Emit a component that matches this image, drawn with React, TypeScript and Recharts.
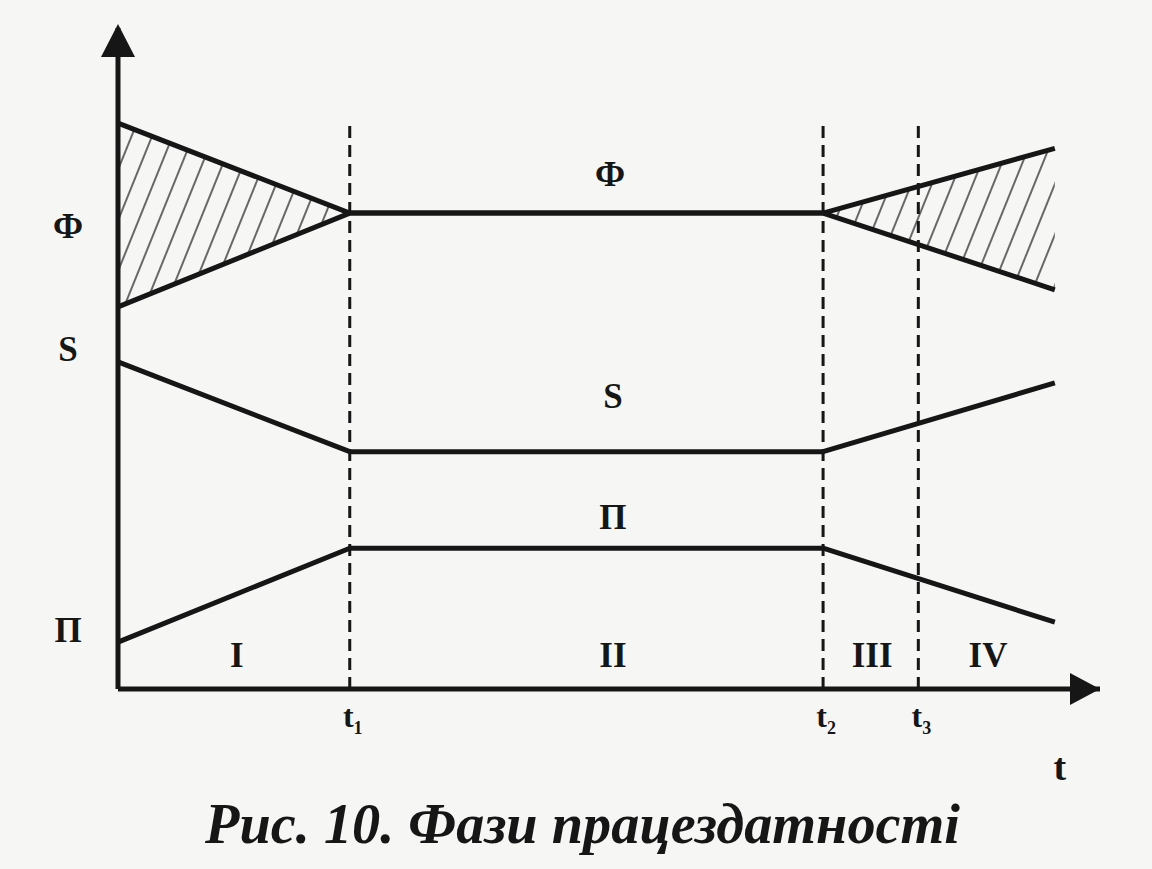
import React from "react";
import { ComposedChart, Line, Area, XAxis, YAxis, ReferenceLine, ReferenceDot } from "recharts";

// ── Data ──────────────────────────────────────────────────────────────────────
const T_POINTS = [0, 2.36, 7.18, 9.54];
const PHI_HIGH = [8.56, 7.2, 7.2, 8.18];
const PHI_LOW = [5.78, 7.2, 7.2, 6.04];
const S_VALUES = [4.95, 3.59, 3.59, 4.63];
const P_VALUES = [0.71, 2.13, 2.13, 1.01];

const PHASE_T = [2.36, 7.18, 8.15];
const PHASE_TICK_SUB = ["1", "2", "3"];
const PHASE_TOP = 8.53;

const Y_TICKS = [0.89, 5.13, 6.99];
const Y_TICK_LABELS = ["П", "S", "Ф"];

const PHASE_NAMES = ["I", "II", "III", "IV"];
const PHASE_NAME_X = [1.21, 5.04, 7.68, 8.86];
const PHASE_NAME_Y = 0.51;

const CURVE_NAMES = ["Ф", "S", "П"];
const CURVE_NAME_X = [5.01, 5.04, 5.04];
const CURVE_NAME_Y = [7.78, 4.42, 2.59];

const CAPTION = "Рис. 10. Фази працездатності";

const data = T_POINTS.map((t, i) => ({
  t,
  phiHigh: PHI_HIGH[i],
  phiLow: PHI_LOW[i],
  s: S_VALUES[i],
  p: P_VALUES[i],
  hatch: [PHI_LOW[i], PHI_HIGH[i]],
}));

const INK = "#161616";
const SERIF = "'Liberation Serif', 'DejaVu Serif', serif";

// ── Shapes ────────────────────────────────────────────────────────────────────
const Label = (text: string, size = 35) => (props: any) => (
  <text x={props.cx} y={props.cy} textAnchor="middle" dominantBaseline="central"
    style={{ fontFamily: SERIF, fontWeight: 700, fontSize: size, fill: INK }}>
    {text}
  </text>
);

const ArrowUp = (props: any) => (
  <polygon points={`${props.cx},${props.cy - 4} ${props.cx - 17},${props.cy + 29} ${props.cx + 17},${props.cy + 29}`} fill={INK} />
);
const ArrowRight = (props: any) => (
  <polygon points={`${props.cx},${props.cy} ${props.cx - 30},${props.cy - 16} ${props.cx - 30},${props.cy + 16}`} fill={INK} />
);

function XTick(props: any) {
  const i = PHASE_T.indexOf(props.payload.value);
  return (
    <text x={props.x + 3} y={props.y + 30} textAnchor="middle"
      style={{ fontFamily: SERIF, fontWeight: 700, fontSize: 32, fill: INK }}>
      t<tspan fontSize={18} dy={7}>{PHASE_TICK_SUB[i]}</tspan>
    </text>
  );
}

function YTick(props: any) {
  const i = Y_TICKS.indexOf(props.payload.value);
  return (
    <text x={68} y={props.y} textAnchor="middle" dominantBaseline="central"
      style={{ fontFamily: SERIF, fontWeight: 700, fontSize: 35, fill: INK }}>
      {Y_TICK_LABELS[i]}
    </text>
  );
}

export default function App() {
  return (
    <div style={{ position: "absolute", left: 0, top: 0, width: 1152, height: 869, background: "#f6f6f5" }}>
      <ComposedChart width={1152} height={869} data={data}
        margin={{ top: 28, right: 52, bottom: 140, left: 38 }}>
        <defs>
          <pattern id="hatch" width={19} height={19} patternUnits="userSpaceOnUse" patternTransform="rotate(22)">
            <line x1={2} y1={0} x2={2} y2={19} stroke="#444" strokeWidth={1.6} />
          </pattern>
        </defs>
        <XAxis type="number" dataKey="t" domain={[0, 10]} ticks={PHASE_T} tick={<XTick />}
          tickLine={false} axisLine={{ stroke: INK, strokeWidth: 5 }} height={40} />
        <YAxis type="number" domain={[0, 10]} ticks={Y_TICKS} tick={<YTick />}
          tickLine={false} axisLine={{ stroke: INK, strokeWidth: 5 }} width={80} />

        {PHASE_T.map((t) => (
          <ReferenceLine key={t} segment={[{ x: t, y: 0 }, { x: t, y: PHASE_TOP }]}
            stroke={INK} strokeWidth={3} strokeDasharray="12 7" />
        ))}

        <Area type="linear" dataKey="hatch" stroke="none" fill="url(#hatch)" fillOpacity={1}
          isAnimationActive={false} activeDot={false} />
        <Line type="linear" dataKey="phiHigh" stroke={INK} strokeWidth={5} dot={false} isAnimationActive={false} strokeLinejoin="round" />
        <Line type="linear" dataKey="phiLow" stroke={INK} strokeWidth={5} dot={false} isAnimationActive={false} strokeLinejoin="round" />
        <Line type="linear" dataKey="s" stroke={INK} strokeWidth={5} dot={false} isAnimationActive={false} strokeLinejoin="round" />
        <Line type="linear" dataKey="p" stroke={INK} strokeWidth={5} dot={false} isAnimationActive={false} strokeLinejoin="round" />

        {CURVE_NAMES.map((n, i) => (
          <ReferenceDot key={"c" + i} x={CURVE_NAME_X[i]} y={CURVE_NAME_Y[i]} r={0} shape={Label(n)} ifOverflow="visible" />
        ))}
        {PHASE_NAMES.map((n, i) => (
          <ReferenceDot key={"p" + i} x={PHASE_NAME_X[i]} y={PHASE_NAME_Y} r={0} shape={Label(n)} ifOverflow="visible" />
        ))}

        <ReferenceDot x={0} y={10} r={0} shape={ArrowUp} ifOverflow="visible" />
        <ReferenceDot x={10} y={0} r={0} shape={ArrowRight} ifOverflow="visible" />
        <ReferenceDot x={9.59} y={-1.18} r={0} shape={Label("t", 38)} ifOverflow="visible" />

        <text x={205} y={843} textLength={755} lengthAdjust="spacingAndGlyphs"
          style={{ fontFamily: SERIF, fontWeight: 700, fontStyle: "italic", fontSize: 58, fill: INK }}>
          {CAPTION}
        </text>
      </ComposedChart>
    </div>
  );
}
